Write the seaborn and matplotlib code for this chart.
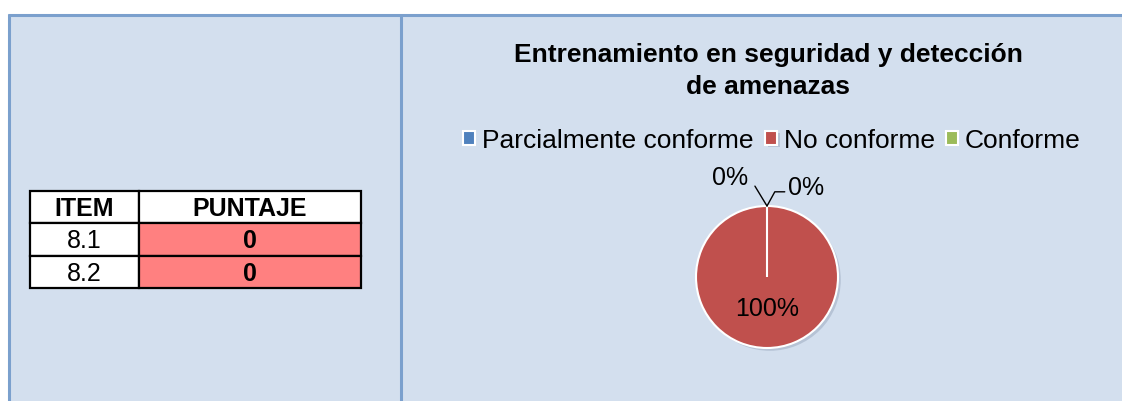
import matplotlib
matplotlib.use("Agg")
import matplotlib.pyplot as plt
import matplotlib.patheffects as pe
from matplotlib.patches import Rectangle
import numpy as np
import seaborn as sns


# Data

title = "Entrenamiento en seguridad y detección\nde amenazas"
categories = ["Parcialmente conforme", "No conforme", "Conforme"]
shares = [0, 100, 0]
colors = ["#4F81BD", "#C0504D", "#9BBB59"]

table_header = ["ITEM", "PUNTAJE"]
items = ["8.1", "8.2"]
scores = [0, 0]


# Style

sns.set_theme(style="white")
plt.rcParams["font.family"] = ["Liberation Sans", "DejaVu Sans"]
plt.rcParams["text.color"] = "black"

W, H = 1122, 402
panel = "#D3DFEE"
border = "#7BA0CD"

fig = plt.figure(figsize=(W / 100, H / 100), dpi=100)
fig.patch.set_facecolor("white")

# background / frame in pixel coordinates
bg = fig.add_axes([0, 0, 1, 1])
bg.set_xlim(0, W)
bg.set_ylim(H, 0)
bg.axis("off")
bg.add_patch(Rectangle((8, 15), W - 8, H - 15, facecolor=panel, edgecolor="none"))
bg.plot([8, W], [16, 16], color=border, lw=2.2, solid_capstyle="butt")
bg.plot([9.5, 9.5], [15, H], color=border, lw=2.2, solid_capstyle="butt")
bg.plot([401.5, 401.5], [15, H], color=border, lw=2.2, solid_capstyle="butt")


# Score table

col_x = [30, 139, 361]
top = 192
row_h = 32.3

for j, txt in enumerate(table_header):
    bg.add_patch(Rectangle((col_x[j], top), col_x[j + 1] - col_x[j], row_h,
                           facecolor="white", edgecolor="black", lw=1.6))
    bg.text((col_x[j] + col_x[j + 1]) / 2, top + row_h / 2 + 1, txt,
            ha="center", va="center", fontsize=18, fontweight="bold")

for i, (item, score) in enumerate(zip(items, scores)):
    y = top + row_h * (i + 1)
    bg.add_patch(Rectangle((col_x[0], y), col_x[1] - col_x[0], row_h,
                           facecolor="white", edgecolor="black", lw=1.6))
    bg.add_patch(Rectangle((col_x[1], y), col_x[2] - col_x[1], row_h,
                           facecolor="#FF8080", edgecolor="black", lw=1.6))
    bg.text((col_x[0] + col_x[1]) / 2, y + row_h / 2 + 1, item,
            ha="center", va="center", fontsize=18)
    bg.text((col_x[1] + col_x[2]) / 2, y + row_h / 2 + 1, str(score),
            ha="center", va="center", fontsize=18, fontweight="bold")


# Pie chart

cx, cy, r = 767, 278, 71
lim = 1.6
half = r * lim
ax = fig.add_axes([(cx - half) / W, (H - cy - half) / H, 2 * half / W, 2 * half / H])
wedges, _ = ax.pie(shares, colors=colors, startangle=90, counterclock=False,
                   radius=1, wedgeprops=dict(edgecolor="white", linewidth=1.5))
ax.set_xlim(-lim, lim)
ax.set_ylim(-lim, lim)
ax.axis("off")

total = sum(shares)
for w, v in zip(wedges, shares):
    if v > 0:
        w.set_path_effects([pe.SimplePatchShadow(offset=(2, -2), shadow_rgbFace="#8090a8", alpha=0.35),
                            pe.Normal()])
        mid = np.deg2rad((w.theta1 + w.theta2) / 2)
        ax.text(0.44 * np.cos(mid), 0.44 * np.sin(mid), f"{v / total:.0%}",
                ha="center", va="center", fontsize=18)

# zero slices: labels pulled out with leader lines
zero = [w for w, v in zip(wedges, shares) if v == 0]
for k, w in enumerate(zero):
    a = np.deg2rad(w.theta1)
    px, py = np.cos(a), np.sin(a)
    if k == 0:
        ax.plot([px, px - 0.17], [py, py + 0.28], color="black", lw=1)
        ax.text(px - 0.52, py + 0.41, "0%", ha="center", va="center", fontsize=18)
    else:
        ax.plot([px, px + 0.11, px + 0.25], [py, py + 0.2, py + 0.2], color="black", lw=1)
        ax.text(px + 0.55, py + 0.27, "0%", ha="center", va="center", fontsize=18)

ax.legend(wedges, categories, loc="center", ncol=3, frameon=False,
          bbox_to_anchor=(772 / W, 1 - 141 / H), bbox_transform=fig.transFigure,
          fontsize=19, handlelength=0.45, handleheight=0.45,
          handletextpad=0.27, columnspacing=0.42, borderpad=0)

fig.text(768 / W, 1 - 71 / H, title, ha="center", va="center",
         fontsize=19, fontweight="bold", linespacing=1.42)

fig.savefig("out.png", dpi=100, facecolor="white")
